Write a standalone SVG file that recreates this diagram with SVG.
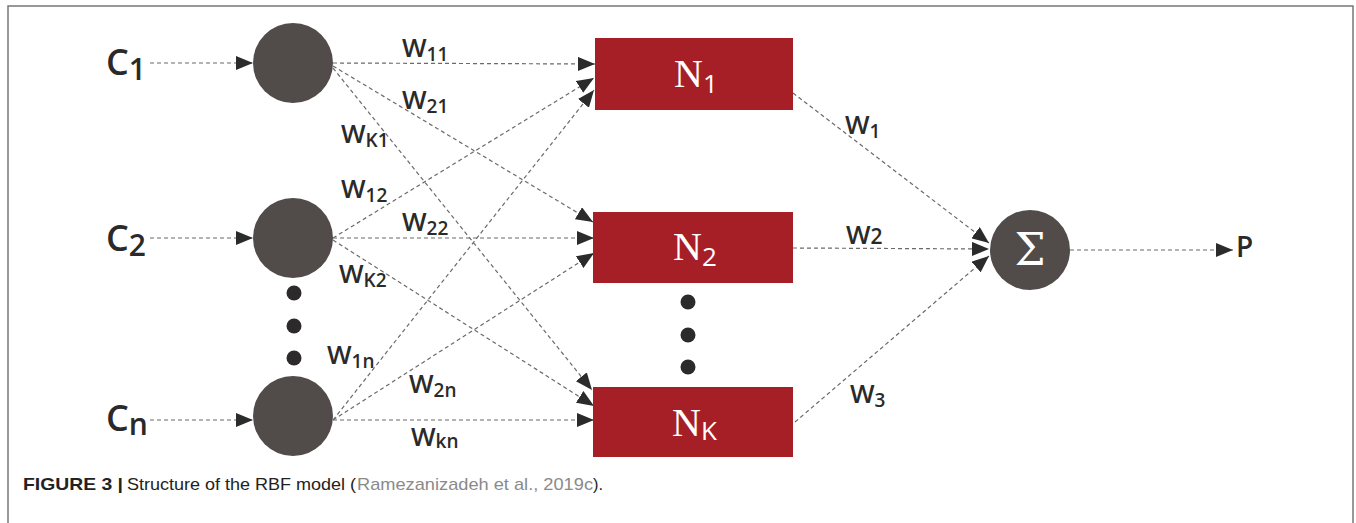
<svg xmlns="http://www.w3.org/2000/svg" width="1356" height="523" viewBox="0 0 1356 523">
<style>
.frame{fill:none;stroke:#777;stroke-width:1.5}
.c{stroke:#6a6a6a;stroke-width:1.2;stroke-dasharray:4 3;fill:none;marker-end:url(#ah)}
.inode{fill:#514b4a}
.hnode{fill:#a71f26}
.dot{fill:#2c2a2a}
.lbl{font-family:"Open Sans","DejaVu Sans",sans-serif;fill:#2a2a2a;font-weight:600}
.w{font-family:"Open Sans","DejaVu Sans",sans-serif;fill:#2a2a2a;font-size:26px;font-weight:600}
.ws{font-size:19px}
.nl{font-family:"Liberation Serif","DejaVu Serif",serif;fill:#fff;font-size:40px}
.ns{font-family:"Open Sans",sans-serif;font-size:26px}
.cap{font-family:"Liberation Sans",Arial,sans-serif;font-size:17px;fill:#222}
</style>
<defs>
<marker id="ah" markerUnits="userSpaceOnUse" markerWidth="18" markerHeight="14" refX="17" refY="7" orient="auto">
<path d="M0,0 L17,7 L0,14 Z" fill="#2b2b2b"/>
</marker>
</defs>
<rect width="1356" height="523" fill="#fff"/>
<path class="frame" d="M8,523 V6 H1353 V523"/>

<g id="connectors">
<line class="c" x1="150" y1="63" x2="253" y2="63"/>
<line class="c" x1="150" y1="238" x2="253" y2="238"/>
<line class="c" x1="150" y1="420" x2="253" y2="420"/>

<line class="c" x1="333" y1="63" x2="595" y2="64"/>
<line class="c" x1="333" y1="66" x2="593" y2="222"/>
<line class="c" x1="333" y1="68" x2="592" y2="390"/>
<line class="c" x1="333" y1="238" x2="594" y2="78"/>
<line class="c" x1="333" y1="238" x2="594" y2="238"/>
<line class="c" x1="333" y1="240" x2="594" y2="406"/>
<line class="c" x1="333" y1="420" x2="594" y2="90"/>
<line class="c" x1="333" y1="420" x2="594" y2="253"/>
<line class="c" x1="333" y1="420" x2="594" y2="420"/>

<line class="c" x1="793" y1="93" x2="989" y2="243"/>
<line class="c" x1="793" y1="248" x2="989" y2="249"/>
<line class="c" x1="795" y1="422" x2="989" y2="256"/>
<line class="c" x1="1070" y1="250" x2="1233" y2="250"/>
</g>

<g id="C1">
<circle class="inode" cx="293" cy="63" r="40"/>
<text class="lbl" x="106" y="75" font-size="36">C<tspan font-size="30" dy="5">1</tspan></text>
</g>
<g id="C2">
<circle class="inode" cx="293" cy="238" r="40"/>
<text class="lbl" x="106" y="251" font-size="36">C<tspan font-size="30" dy="5">2</tspan></text>
</g>
<g id="Cn">
<circle class="inode" cx="293" cy="416" r="40"/>
<text class="lbl" x="106" y="431" font-size="36">C<tspan font-size="30" dy="4">n</tspan></text>
</g>
<g id="input-dots">
<circle class="dot" cx="294" cy="293" r="7.5"/>
<circle class="dot" cx="294" cy="326" r="7.5"/>
<circle class="dot" cx="294" cy="358" r="7.5"/>
</g>

<g id="N1">
<rect class="hnode" x="595" y="38" width="198" height="72"/>
<text class="nl" x="674" y="87">N<tspan class="ns" dy="6">1</tspan></text>
</g>
<g id="N2">
<rect class="hnode" x="593" y="212" width="200" height="71"/>
<text class="nl" x="673" y="260">N<tspan class="ns" dy="6">2</tspan></text>
</g>
<g id="NK">
<rect class="hnode" x="593" y="387" width="200" height="70"/>
<text class="nl" x="672" y="436">N<tspan class="ns" dy="4">K</tspan></text>
</g>
<g id="hidden-dots">
<circle class="dot" cx="688" cy="302" r="7.5"/>
<circle class="dot" cx="688" cy="335" r="7.5"/>
<circle class="dot" cx="688" cy="367" r="7.5"/>
</g>

<g id="sum">
<circle class="inode" cx="1030" cy="250" r="40"/>
<text x="1030" y="265" text-anchor="middle" font-family="'DejaVu Serif',serif" font-size="44" font-weight="200" fill="#fff">Σ</text>
</g>
<g id="P">
<text class="lbl" x="1236" y="257" font-size="28">P</text>
</g>

<g id="weights">
<text class="w" x="402" y="57">W<tspan class="ws" dy="4">11</tspan></text>
<text class="w" x="402" y="109">W<tspan class="ws" dy="4">21</tspan></text>
<text class="w" x="341" y="143">W<tspan class="ws" dy="4">K1</tspan></text>
<text class="w" x="341" y="198">W<tspan class="ws" dy="4">12</tspan></text>
<text class="w" x="402" y="231">W<tspan class="ws" dy="4">22</tspan></text>
<text class="w" x="339" y="283">W<tspan class="ws" dy="4">K2</tspan></text>
<text class="w" x="327" y="364">W<tspan class="ws" dy="4">1n</tspan></text>
<text class="w" x="409" y="393">W<tspan class="ws" dy="4">2n</tspan></text>
<text class="w" x="411" y="446">W<tspan class="ws" dy="2">kn</tspan></text>
<text class="w" x="845" y="134">W<tspan class="ws" dy="4">1</tspan></text>
<text class="w" x="846" y="244">W<tspan font-size="21">2</tspan></text>
<text class="w" x="850" y="403">W<tspan class="ws" dy="4">3</tspan></text>
</g>

<text class="cap" y="490"><tspan x="23" font-weight="bold" textLength="100" lengthAdjust="spacingAndGlyphs">FIGURE 3 |</tspan><tspan x="127" textLength="229" lengthAdjust="spacingAndGlyphs">Structure of the RBF model (</tspan><tspan x="357" fill="#8a8a8a" textLength="236" lengthAdjust="spacingAndGlyphs">Ramezanizadeh et al., 2019c</tspan><tspan x="593" textLength="10" lengthAdjust="spacingAndGlyphs">).</tspan></text>
</svg>
